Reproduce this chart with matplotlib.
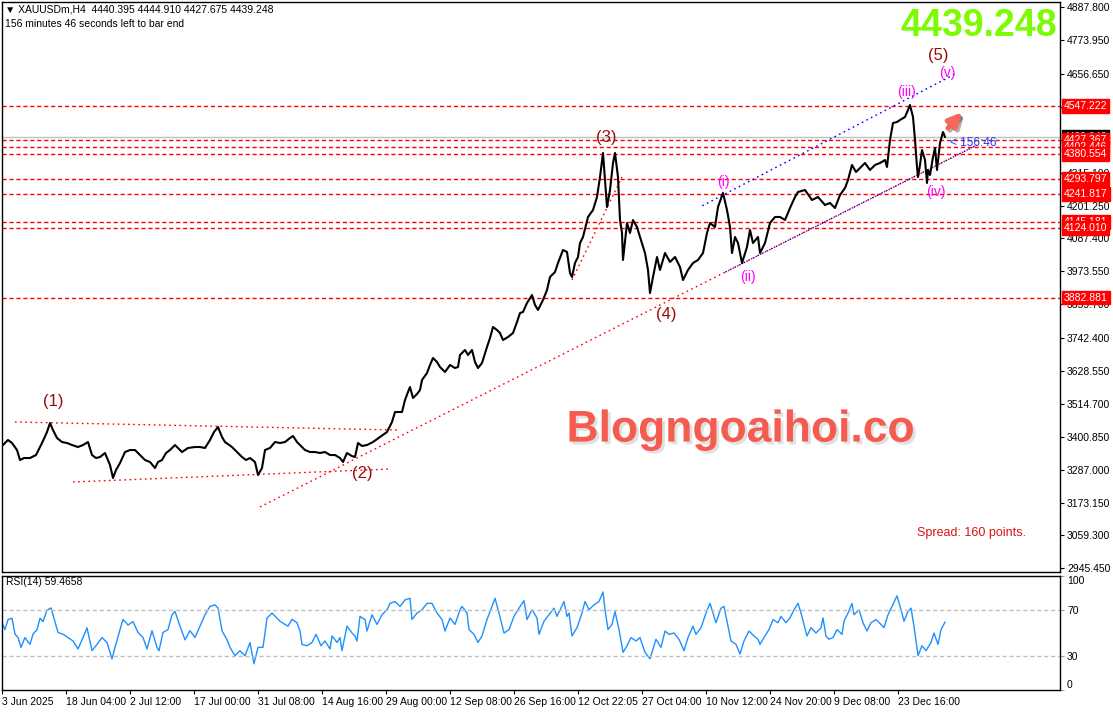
import matplotlib
matplotlib.use("Agg")
import matplotlib.pyplot as plt
import matplotlib.patheffects as pe
from matplotlib.transforms import blended_transform_factory

plt.rcParams["font.family"] = ["Liberation Sans", "DejaVu Sans"]

# XAUUSDm H4 closes (bar slot, price)
bars = [3, 8, 12, 17, 20, 24, 30, 36, 42, 47, 50, 53, 57, 62, 67, 72, 78, 83, 88, 92,
        96, 100, 105, 110, 113, 116, 120, 125, 130, 135, 140, 145, 150, 155, 158, 162, 166, 170, 175, 182,
        188, 195, 200, 205, 210, 214, 218, 222, 225, 232, 238, 242, 246, 250, 255, 258, 262, 265, 270, 275,
        280, 285, 290, 293, 297, 300, 305, 310, 315, 320, 325, 330, 335, 340, 343, 347, 352, 355, 358, 362,
        367, 373, 380, 387, 392, 395, 402, 405, 408, 410, 413, 417, 420, 422, 427, 430, 433, 437, 440, 445,
        450, 455, 458, 460, 465, 468, 472, 475, 478, 482, 487, 490, 493, 497, 500, 503, 508, 513, 517, 520,
        523, 527, 532, 535, 538, 543, 547, 550, 555, 558, 563, 567, 570, 572, 575, 578, 580, 583, 588, 593,
        597, 600, 603, 605, 607, 610, 613, 615, 618, 620, 622, 623, 627, 630, 633, 637, 640, 645, 648, 650,
        653, 657, 660, 665, 670, 675, 680, 683, 688, 693, 698, 703, 707, 710, 715, 718, 723, 727, 730, 732,
        735, 738, 742, 747, 750, 753, 758, 760, 765, 770, 775, 780, 785, 790, 795, 798, 805, 812, 818, 825,
        830, 835, 840, 845, 848, 852, 856, 860, 865, 870, 875, 880, 885, 887, 890, 893, 897, 900, 905, 908,
        910, 913, 915, 917, 918, 920, 922, 925, 927, 928, 930, 933, 935, 937, 940, 943, 945]
close = [3372.3, 3389.7, 3379.3, 3355.0, 3320.4, 3327.3, 3327.3, 3337.7, 3379.3, 3417.4,
         3448.5, 3424.3, 3396.6, 3382.7, 3379.3, 3372.3, 3365.4, 3372.3, 3382.7, 3337.7,
         3327.3, 3330.8, 3344.7, 3303.1, 3258.1, 3285.8, 3310.0, 3348.1, 3355.0, 3355.0,
         3337.7, 3320.4, 3313.5, 3292.7, 3313.5, 3320.4, 3344.7, 3355.0, 3372.3, 3348.1,
         3362.0, 3365.4, 3365.4, 3362.0, 3389.7, 3417.4, 3434.7, 3400.0, 3382.7, 3365.4,
         3344.7, 3330.8, 3320.4, 3327.3, 3313.5, 3268.5, 3292.7, 3355.0, 3362.0, 3382.7,
         3379.3, 3382.7, 3396.6, 3403.5, 3382.7, 3372.3, 3355.0, 3348.1, 3348.1, 3344.7,
         3348.1, 3337.7, 3337.7, 3327.3, 3313.5, 3344.7, 3334.0, 3330.8, 3379.3, 3369.0,
         3372.3, 3382.7, 3400.0, 3417.4, 3452.1, 3486.6, 3486.6, 3528.2, 3555.9, 3573.2,
         3535.1, 3548.9, 3562.8, 3597.4, 3621.6, 3649.3, 3673.6, 3659.7, 3642.4, 3625.1,
         3649.3, 3638.9, 3642.4, 3684.0, 3701.3, 3684.0, 3701.3, 3659.7, 3638.9, 3656.3,
         3711.7, 3742.8, 3780.9, 3770.5, 3760.1, 3735.9, 3746.3, 3760.1, 3798.2, 3829.4,
         3832.8, 3864.0, 3891.7, 3857.1, 3839.8, 3874.4, 3909.0, 3954.0, 3971.3, 4002.5,
         4047.5, 4040.6, 3967.9, 3954.0, 4002.5, 4023.3, 4071.7, 4092.5, 4161.8, 4186.0,
         4231.0, 4300.2, 4383.3, 4289.9, 4196.4, 4255.2, 4348.7, 4383.3, 4300.2, 4151.4,
         4106.4, 4012.9, 4141.0, 4106.4, 4151.4, 4127.1, 4092.5, 4037.1, 3978.3, 3898.6,
         3954.0, 4023.3, 3978.3, 4037.1, 4006.0, 4023.3, 3988.6, 3943.6, 3978.3, 4002.5,
         4012.9, 4037.1, 4106.4, 4141.0, 4127.1, 4196.4, 4244.8, 4186.0, 4127.1, 4037.1,
         4092.5, 4071.7, 4002.5, 4058.0, 4116.9, 4071.7, 4092.5, 4037.1, 4071.7, 4141.0,
         4161.8, 4161.8, 4151.4, 4192.9, 4231.0, 4248.3, 4255.2, 4220.6, 4231.0, 4203.3,
         4210.2, 4192.9, 4237.9, 4262.2, 4289.9, 4341.8, 4317.6, 4331.4, 4348.7, 4324.5,
         4341.8, 4348.7, 4359.1, 4334.9, 4428.4, 4487.2, 4490.7, 4497.6, 4508.0, 4532.2,
         4549.5, 4508.0, 4428.4, 4334.9, 4300.2, 4341.8, 4393.7, 4359.1, 4279.5, 4324.5,
         4307.2, 4369.5, 4400.7, 4324.5, 4418.0, 4456.1, 4439.2]

# RSI(14)
rsi_bars = [2, 5, 8, 12, 15, 18, 21, 25, 30, 33, 37, 40, 43, 47, 51, 53, 58, 63, 68, 73,
            78, 83, 87, 92, 97, 102, 107, 112, 115, 120, 123, 128, 133, 138, 143, 147, 152, 157, 159, 163,
            168, 172, 175, 180, 185, 190, 195, 200, 205, 210, 215, 218, 222, 227, 230, 235, 240, 245, 250, 254,
            258, 263, 267, 272, 277, 280, 288, 292, 297, 300, 302, 307, 312, 316, 321, 325, 330, 332, 337, 340,
            342, 347, 352, 355, 357, 360, 365, 367, 372, 377, 382, 387, 390, 395, 400, 405, 410, 412, 417, 422,
            427, 432, 437, 442, 445, 450, 455, 460, 462, 467, 469, 474, 478, 482, 487, 492, 495, 499, 504, 509,
            514, 519, 524, 527, 532, 537, 539, 544, 549, 554, 557, 564, 567, 569, 572, 577, 582, 585, 589, 594,
            599, 603, 605, 608, 612, 615, 619, 623, 627, 631, 636, 640, 645, 650, 653, 656, 661, 665, 669, 674,
            679, 684, 688, 693, 696, 701, 706, 710, 714, 716, 721, 724, 728, 731, 736, 740, 744, 749, 754, 758,
            760, 764, 769, 773, 778, 781, 786, 790, 794, 798, 801, 804, 807, 811, 816, 821, 823, 826, 829, 833,
            837, 842, 844, 848, 852, 854, 859, 863, 867, 871, 876, 881, 884, 888, 892, 896, 897, 901, 904, 908,
            911, 914, 918, 922, 926, 931, 934, 938, 941, 945]
rsi = [58.9, 53.0, 61.8, 63.0, 49.0, 46.0, 37.4, 46.0, 40.0, 49.0, 53.0, 63.0, 60.0, 70.0, 72.0, 66.0, 50.5, 49.0, 46.0, 43.0,
       36.0, 46.0, 54.6, 34.5, 40.0, 46.0, 41.6, 27.3, 37.4, 53.0, 61.8, 57.0, 60.0, 50.5, 46.0, 36.0, 52.0, 37.4, 34.5, 50.5,
       53.0, 66.0, 69.0, 56.0, 44.0, 52.0, 46.0, 56.0, 66.0, 73.3, 74.7, 72.0, 52.0, 44.0, 37.4, 30.0, 34.5, 30.0, 41.6, 23.0,
       37.4, 37.4, 63.0, 67.5, 63.0, 60.3, 56.0, 62.0, 59.0, 51.7, 40.0, 38.8, 41.7, 48.8, 38.8, 43.0, 36.0, 47.4, 41.7, 46.0,
       34.5, 56.0, 50.0, 47.4, 43.0, 64.6, 61.8, 51.7, 66.0, 57.5, 66.0, 70.4, 76.0, 77.6, 73.3, 79.0, 80.5, 61.8, 67.5, 70.4,
       76.0, 76.0, 67.5, 61.8, 51.7, 63.2, 57.5, 70.4, 73.3, 67.5, 53.0, 48.8, 41.7, 47.4, 61.8, 73.3, 80.5, 67.5, 50.0, 53.0,
       64.6, 71.8, 78.4, 61.8, 70.4, 63.2, 48.8, 60.3, 66.0, 71.8, 64.6, 77.6, 64.6, 67.5, 47.4, 54.6, 67.5, 77.6, 70.4, 74.7,
       77.6, 86.0, 70.4, 53.0, 57.5, 68.9, 53.0, 33.0, 38.8, 46.0, 43.0, 46.0, 33.0, 27.3, 36.0, 44.5, 37.4, 51.7, 48.8, 50.0,
       44.5, 34.5, 46.0, 56.0, 48.8, 54.6, 67.5, 76.0, 64.6, 59.0, 71.8, 73.3, 56.0, 43.0, 40.0, 31.6, 43.0, 51.7, 47.4, 44.5,
       40.0, 46.0, 53.0, 61.8, 59.0, 64.6, 59.0, 63.2, 70.4, 76.0, 67.5, 57.5, 47.4, 54.6, 50.0, 54.6, 63.2, 47.4, 44.5, 46.0,
       53.0, 48.8, 60.3, 67.5, 76.0, 66.0, 70.4, 59.0, 51.7, 59.0, 61.8, 57.5, 54.6, 66.0, 73.3, 80.5, 82.6, 70.4, 60.3, 68.9,
       71.8, 56.0, 30.2, 38.8, 34.5, 41.7, 50.0, 40.0, 53.0, 59.5]

date_ticks = [2, 66, 130, 194, 258, 322, 386, 450, 514, 578, 642, 706, 770, 834, 898]
date_labels = ["3 Jun 2025", "18 Jun 04:00", "2 Jul 12:00", "17 Jul 00:00", "31 Jul 08:00",
               "14 Aug 16:00", "29 Aug 00:00", "12 Sep 08:00", "26 Sep 16:00", "12 Oct 22:05",
               "27 Oct 04:00", "10 Nov 12:00", "24 Nov 20:00", "9 Dec 08:00", "23 Dec 16:00"]
price_ticks = [4887.8, 4773.95, 4656.65, 4542.8, 4428.95, 4315.1, 4201.25, 4087.4, 3973.55,
               3859.7, 3742.4, 3628.55, 3514.7, 3400.85, 3287.0, 3173.15, 3059.3, 2945.45]
hidden_ticks = [4542.8, 4428.95]   # covered by the level boxes on the scale
levels = [4547.222, 4427.367, 4402.446, 4380.554, 4293.797, 4241.817, 4145.181, 4124.010, 3882.881]
last_price = 4439.248

# drawn objects: (bar, price) anchors
red_trends = [((15, 3452.0), (397, 3424.3)),
              ((73, 3244.3), (390, 3289.3)),
              ((260, 3157.7), (977, 4411.0)),
              ((572, 3943.7), (622, 4300.3))]
blue_trends = [((723, 3967.0), (977, 4411.0)),
               ((700, 4196.4), (957, 4660.3))]
major_waves = [("(1)", 53, 3524.7), ("(2)", 362, 3275.4), ("(3)", 606, 4438.7),
               ("(4)", 666, 3822.5), ("(5)", 938, 4719.2)]
minor_waves = [("(i)", 723, 4282.9), ("(ii)", 748, 3954.0), ("(iii)", 907, 4594.5),
               ("(iv)", 936, 4248.3), ("(v)", 947, 4660.3)]
arrow_from = (946, 4462.0)
arrow_to = (964, 4532.0)

fig = plt.figure(figsize=(11.13, 7.14), dpi=100)
ax = fig.add_axes([2 / 1113, 1 - 572 / 714, 1058 / 1113, 570 / 714])
rax = fig.add_axes([2 / 1113, 1 - 690 / 714, 1058 / 1113, 114 / 714])

# price panel
ax.plot(bars, close, color="black", lw=1.5, zorder=3)
for lv in levels:
    ax.axhline(lv, color="red", lw=1, ls=(0, (3, 2)), zorder=2)
ax.axhline(last_price, color="#c0c0c0", lw=1, zorder=1)
for (x0, y0), (x1, y1) in red_trends:
    ax.plot([x0, x1], [y0, y1], color="red", lw=1, ls=(0, (1.2, 2.5)), zorder=2)
for (x0, y0), (x1, y1) in blue_trends:
    ax.plot([x0, x1], [y0, y1], color="blue", lw=1, ls=(1.8, (1.2, 2.5)), zorder=2)
for t, x, y in major_waves:
    ax.text(x, y, t, color="#9b0a0a", fontsize=12, ha="center", va="center", zorder=4)
for t, x, y in minor_waves:
    ax.text(x, y, t, color="#ff00ff", fontsize=10, ha="center", va="center", zorder=4)
ax.annotate("", xy=arrow_to, xytext=arrow_from,
            arrowprops=dict(arrowstyle="-|>", color="#f46a5c", lw=3.5, mutation_scale=20,
                            path_effects=[pe.SimpleLineShadow(offset=(1.5, -1.5), alpha=0.3), pe.Normal()]),
            zorder=5)
ax.text(950, 4418.0, "< 156:46", color="#1a3cff", fontsize=8.5, ha="left", va="center", zorder=4)

ax.text(0.997, 0.989, "4439.248", transform=ax.transAxes, ha="right", va="top",
        fontsize=27, fontweight="bold", color="#7cfc00",
        family=["Liberation Sans Narrow", "Liberation Sans"])
ax.text(0.6985, 0.249, "Blogngoaihoi.co", transform=ax.transAxes, ha="center", va="center",
        fontsize=32, fontweight="bold", color="#f55b4e",
        path_effects=[pe.withSimplePatchShadow(offset=(2, -2), shadow_rgbFace="#999999", alpha=0.3)])
ax.text(0.865, 0.0684, "Spread: 160 points.", transform=ax.transAxes, ha="left", va="center",
        fontsize=9, color="#e01010")

ax.set_xlim(2, 1060)
ax.set_ylim(2932.7, 4906.1)
ax.set_xticks([])
ax.yaxis.tick_right()
ax.set_yticks(price_ticks)
ax.set_yticklabels(["" if v in hidden_ticks else "%.3f" % v for v in price_ticks])
ax.tick_params(axis="y", direction="out", length=3, pad=2, labelsize=7.5)

# price labels on the scale
trans = blended_transform_factory(ax.transAxes, ax.transData)
ax.text(1 + 4 / 1058, last_price, "%.3f" % last_price, transform=trans, ha="left", va="center",
        color="white", fontsize=7.5, clip_on=False, zorder=6,
        bbox=dict(boxstyle="square,pad=0.18", fc="black", ec="black"))
for lv in levels:
    ax.text(1 + 4 / 1058, lv, "%.3f" % lv, transform=trans, ha="left", va="center",
            color="white", fontsize=7.5, clip_on=False, zorder=7,
            bbox=dict(boxstyle="square,pad=0.18", fc="red", ec="red"))

fig.text(5 / 1113, 1 - 10 / 714, "\u25bc XAUUSDm,H4  4440.395 4444.910 4427.675 4439.248",
         fontsize=7.5, va="center", ha="left")
fig.text(5 / 1113, 1 - 24 / 714, "156 minutes 46 seconds left to bar end",
         fontsize=7.5, va="center", ha="left")

# RSI panel
rax.plot(rsi_bars, rsi, color="#1e90ff", lw=1)
for lv in (30, 70):
    rax.axhline(lv, color="#c0c0c0", lw=1, ls=(0, (3, 2)))
rax.text(4 / 1058, 0.947, "RSI(14) 59.4658", transform=rax.transAxes, fontsize=7.5,
         ha="left", va="center")
rax.set_xlim(2, 1060)
rax.set_ylim(0, 100)
rax.yaxis.tick_right()
rax.set_yticks([0, 30, 70, 100])
rax.set_yticklabels(["0", "30", "70", "100"])
rax.tick_params(axis="y", direction="out", length=3, pad=2, labelsize=7.5, color="#a0a0a0")
ylabs = rax.get_yticklabels()
ylabs[0].set_va("bottom")
ylabs[3].set_va("top")
rax.set_xticks(date_ticks)
rax.set_xticklabels(date_labels)
rax.tick_params(axis="x", direction="out", length=3, pad=2, labelsize=7.5)
for lab in rax.get_xticklabels():
    lab.set_ha("left")

for a in (ax, rax):
    for s in a.spines.values():
        s.set_linewidth(1)
        s.set_color("black")

fig.savefig("out.png", dpi=100)
